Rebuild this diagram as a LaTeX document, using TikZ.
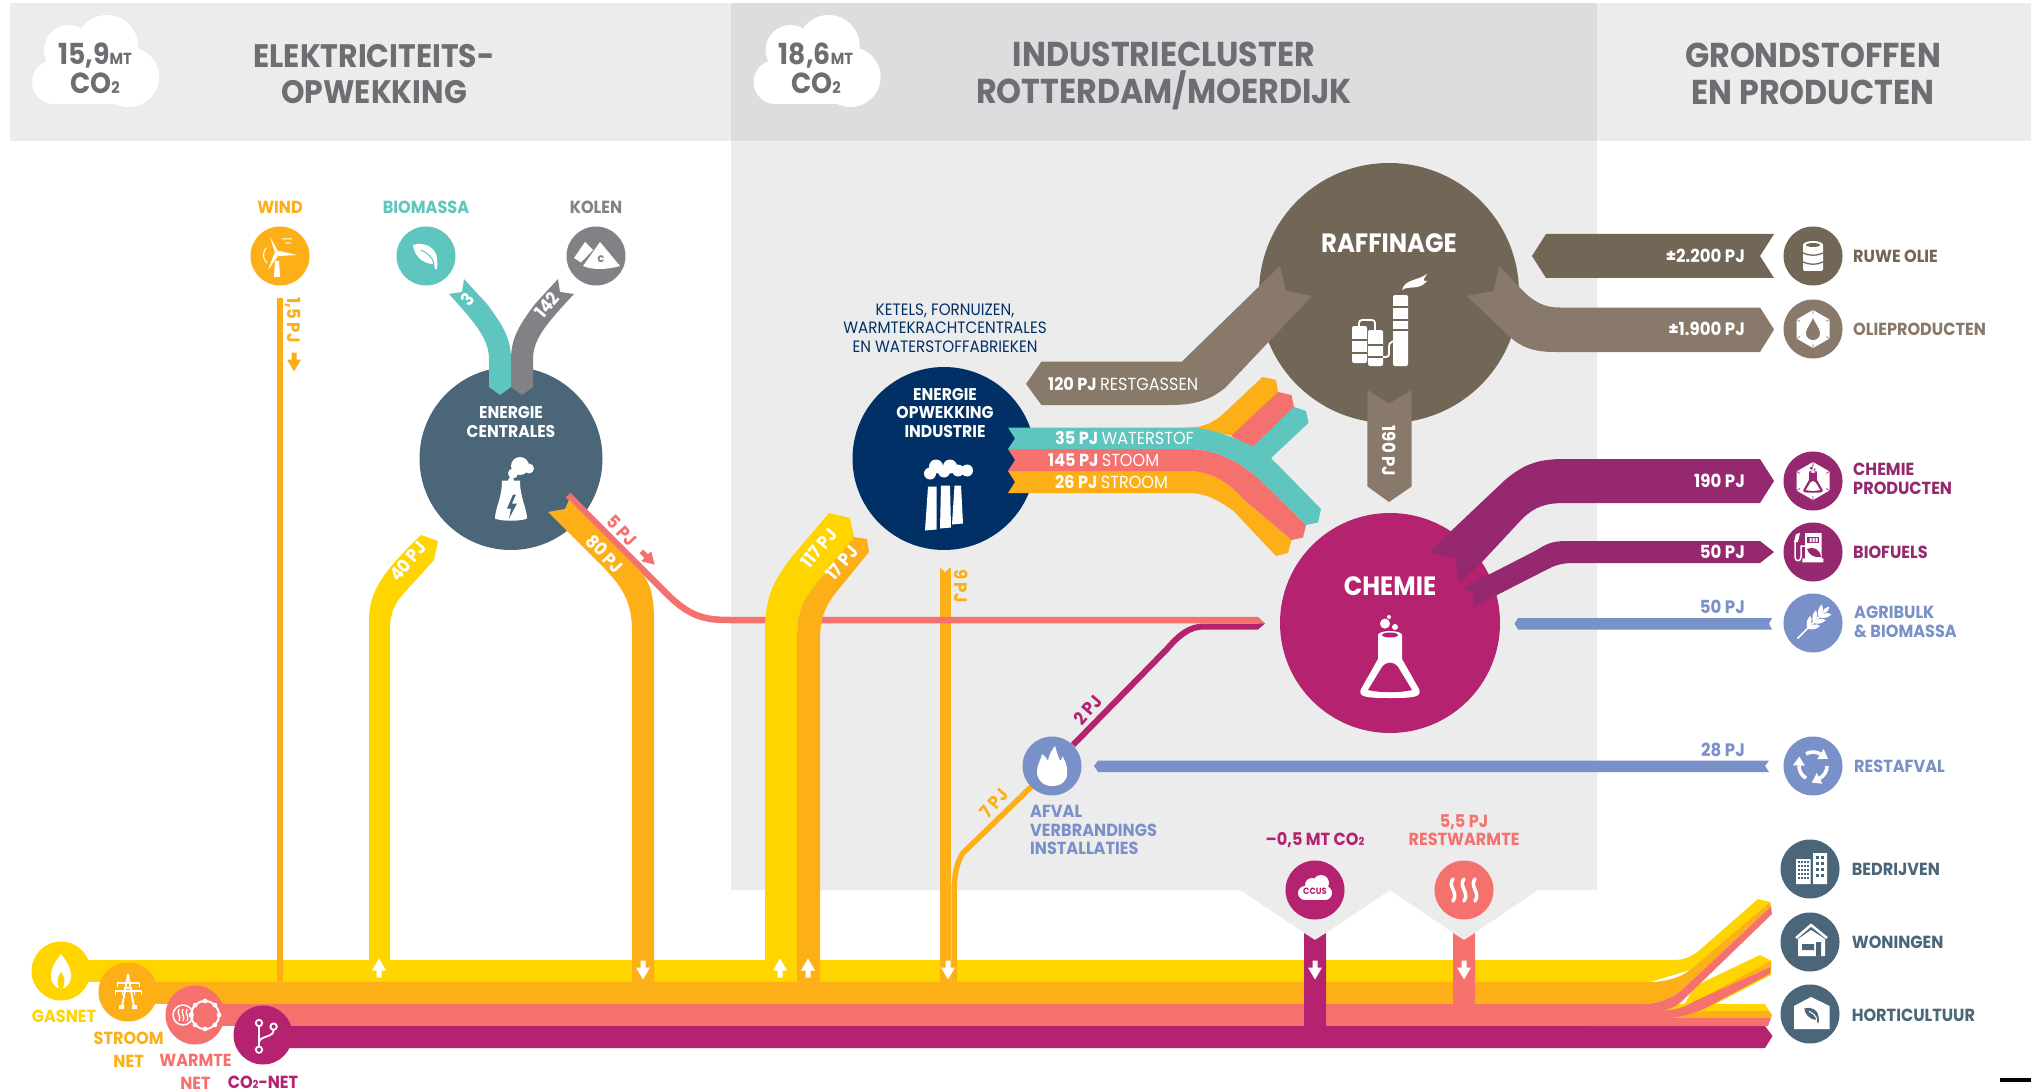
\documentclass[tikz,border=0pt]{standalone}
\usepackage{fontspec}
\setmainfont{Poppins}[FakeStretch=0.92]
\usepackage{tikz}
\usetikzlibrary{arrows, positioning}
\definecolor{gasyellow}{HTML}{FFD500}
\definecolor{powerorange}{HTML}{FDAF17}
\definecolor{heatpink}{HTML}{F4716E}
\definecolor{chemred}{HTML}{B5226F}
\definecolor{biomint}{HTML}{5EC5BF}
\definecolor{coalgrey}{HTML}{808285}
\definecolor{navyblue}{HTML}{003066}
\definecolor{slateblue}{HTML}{4A6678}
\definecolor{oilbrown}{HTML}{726656}
\definecolor{palebrown}{HTML}{88796B}
\definecolor{prodpurple}{HTML}{96286F}
\definecolor{wasteblue}{HTML}{7A90C8}
\definecolor{headgrey}{HTML}{6D6E71}
\definecolor{paneldark}{HTML}{DCDDDE}
\definecolor{panellight}{HTML}{ECECEC}
\tikzstyle{disc} = [circle, inner sep=0pt, minimum size=59pt]
\tikzstyle{bigdisc} = [circle, inner sep=0pt]
\tikzstyle{headtext} = [font=\bfseries\fontsize{34.5}{36.5}\selectfont, align=center, text=headgrey, inner sep=0pt]
\tikzstyle{cloudtext} = [font=\bfseries\fontsize{29}{29}\selectfont, align=center, text=headgrey, inner sep=0pt]
\tikzstyle{sidemark} = [font=\bfseries\fontsize{17.5}{18.6}\selectfont, align=left, anchor=west, inner sep=0pt]
\tikzstyle{midmark} = [font=\bfseries\fontsize{17.5}{18.6}\selectfont, align=center, inner sep=0pt]
\tikzstyle{platemark} = [font=\bfseries\fontsize{17}{18.6}\selectfont, align=center, text=white, inner sep=0pt]
\tikzstyle{flowmark} = [font=\bfseries\fontsize{18}{19}\selectfont, text=white, inner sep=0pt]
\tikzstyle{bandmark} = [font=\bfseries\fontsize{17.5}{19}\selectfont, text=white, inner sep=0pt, anchor=west]
\tikzstyle{thinmark} = [font=\fontsize{16.5}{18.6}\selectfont, align=center, inner sep=0pt]
\tikzset{
  pics/flowtip/.style={code={\fill[#1] (-2.5,-9.5) -- (2.5,-9.5) -- (2.5,-2.5) -- (7,-2.5) -- (0,9.5) -- (-7,-2.5) -- (-2.5,-2.5) -- cycle;}},
  pics/co2cloud/.style={code={
    \fill[white] (75,30) circle (31);
    \fill[white] (37,34) circle (25);
    \fill[white] (22,66) circle (22);
    \fill[white] (97,61) circle (30);
    \fill[white] (22,50) rectangle (97,88);}},
  pics/windicon/.style={code={
    \fill[white] (-5,-3) -- (-10,-19) -- (-2,-5) -- cycle (-1,-5) -- (17,-1) -- (-1,0) -- cycle (-6,-2) -- (-12,14) -- (-2,0) -- cycle (-5,5) -- (-1,5) -- (0,21) -- (-6,21) -- cycle;
    \fill[white] (-3,-2.5) circle (2.5);
    \draw[white, line width=1] (2,-17) -- (12,-17) (5,-13) -- (11,-13) (-14,-8) .. controls (-18,-2) and (-17,3) .. (-13,7);}},
  pics/leaficon/.style 2 args={code={
    \fill[#1] (-13,-11) .. controls (-2,-15) and (11,-8) .. (11,3) .. controls (11,7) and (12,10) .. (11,13) -- (9,13) -- (8,8) .. controls (-5,8) and (-12,-2) .. (-13,-11) -- cycle;
    \draw[#2, line width=1] (-5,-6) .. controls (2,-3) and (7,2) .. (8,8);}},
  pics/coalicon/.style={code={
    \fill[white] (4,-14) -- (24,10) .. controls (10,14) and (-4,14) .. (-13,10) -- cycle (-11,-14) -- (-3,-6) -- (-15,6.5) -- (-22,2) -- cycle;
    \node[font=\bfseries\fontsize{12}{12}\selectfont, text=#1, inner sep=0pt] (coalc) at (5,3) {c};}},
  pics/planticon/.style={code={
    \fill[white] (-9,22) .. controls (-9,40) and (-16,50) .. (-16,60) .. controls (-10,63) and (10,63) .. (16,60) .. controls (16,50) and (9,40) .. (9,22) -- cycle;
    \fill[white] (9,7.5) circle (9) (2,15) circle (5) (18,10) circle (5) (0,22) circle (3);
    \fill[#1] (2,36) -- (-4,50) -- (0,50) -- (-2,60) -- (6,45) -- (1,45) -- (5,36) -- cycle;}},
  pics/factoryicon/.style={code={
    \fill[white] (-16,28) -- (-7.5,28) -- (-7.5,71) -- (-19,72) -- cycle (-3,27) -- (6,27) -- (7,69) -- (-4,70) -- cycle (10.5,27) -- (17,27) -- (19,65) -- (8,66) -- cycle;
    \fill[white] (-14,15) circle (6) (-8,8) circle (7) (0,13) circle (6) (6,8) circle (7) (14,12) circle (6) (23,12) circle (6);}},
  pics/refineryicon/.style={code={
    \fill[white, rounded corners=2pt] (4,2) rectangle (19,73) (-37,33) rectangle (-22,70) (-21,37) rectangle (-6,73);
    \draw[#1, line width=1.6] (4,13.7) -- (19,13.7) (4,27) -- (19,27) (4,37) -- (19,37) (-37,47) -- (-22,47) (-37,60) -- (-22,60) (-21,52) -- (-6,52) (-21,64) -- (-6,64);
    \draw[white, line width=1.8, rounded corners=3pt] (-30,34) -- (-30,27) -- (-14,27) -- (-14,38) (-6,64) -- (0,64) -- (0,50) -- (5,48);
    \fill[white] (13,-3) .. controls (16,-14) and (28,-12) .. (38,-19) .. controls (34,-13) and (33,-12) .. (38,-12) .. controls (30,-2) and (20,-8) .. (13,-3) -- cycle;}},
  pics/flaskicon/.style 2 args={code={
    \fill[#1] (-12,12) -- (-12,36) -- (-29,66) .. controls (-32,74) and (-25,75) .. (0,75) .. controls (25,75) and (32,74) .. (29,66) -- (12,36) -- (12,12) -- cycle;
    \fill[#1] (0,12) ellipse (12 and 4);
    \fill[#2] (0,12) ellipse (8 and 2.5);
    \fill[#2] (-22,67) -- (-8,44) .. controls (-3,38) and (3,38) .. (8,44) -- (22,67) .. controls (10,70) and (-10,70) .. (-22,67) -- cycle;
    \fill[#1] (-5,0.6) circle (5) (-1,-6) circle (2) (5,4) circle (3);}},
  pics/hexicon/.style={code={
    \fill[white] (0,-19) -- (16.5,-9.5) -- (16.5,9.5) -- (0,19) -- (-16.5,9.5) -- (-16.5,-9.5) -- cycle;
    \draw[#1, line width=0.6] (0,-19) -- (0,-15) (16.5,-9.5) -- (13,-7.5) (16.5,9.5) -- (13,7.5) (0,19) -- (0,15) (-16.5,9.5) -- (-13,7.5) (-16.5,-9.5) -- (-13,-7.5);}},
  pics/dropicon/.style={code={\fill[#1] (0,-11) .. controls (3,-4) and (7,0) .. (7,4) .. controls (7,9) and (3,11) .. (0,11) .. controls (-3,11) and (-7,9) .. (-7,4) .. controls (-7,0) and (-3,-4) .. (0,-11) -- cycle;}},
  pics/drumicon/.style={code={
    \fill[white, rounded corners=2pt] (-10,-12) rectangle (10,15);
    \fill[white] (0,-11) ellipse (10 and 4);
    \fill[#1] (0,-11) ellipse (7 and 2);
    \draw[#1, line width=1.3] (-10,-3) .. controls (-4,0) and (4,0) .. (10,-3) (-10,6) .. controls (-4,9) and (4,9) .. (10,6);}},
  pics/pumpicon/.style={code={
    \fill[white] (-8,-19) rectangle (8.7,7) (-10.7,6.3) rectangle (10.3,10.3);
    \fill[#1] (-5.7,-15.3) rectangle (6.3,-8.7);
    \fill[white] (-3.5,-14) rectangle (-1.5,-10) (-0.5,-14) rectangle (1.5,-10) (2.5,-14) rectangle (4.5,-10);
    \draw[white, line width=1.5] (-18,-10) -- (-18,5) .. controls (-18,10) and (-12,10) .. (-12,5) -- (-12,-6) -- (-8,-6);
    \fill[white] (-19,-10) -- (-17,-18) -- (-13,-19) -- (-15,-10) -- cycle;
    \fill[#1] (-6,-3) .. controls (0,-6) and (7,-3) .. (8,5) .. controls (1,6) and (-4,3) .. (-6,-3) -- cycle;}},
  pics/wheaticon/.style={code={
    \begin{scope}[rotate=45]
      \draw[white, line width=1.5] (-22,0) -- (16,0);
      \foreach \d in {-8,0,8} {
        \fill[white] (\d,0) .. controls (\d+3,-6) and (\d+8,-7) .. (\d+11,-7) .. controls (\d+10,-2) and (\d+6,0) .. (\d,0) -- cycle;
        \fill[white] (\d,0) .. controls (\d+3,6) and (\d+8,7) .. (\d+11,7) .. controls (\d+10,2) and (\d+6,0) .. (\d,0) -- cycle;
      }
      \fill[white] (14,0) .. controls (17,-3) and (20,-2) .. (23,0) .. controls (20,2) and (17,3) .. (14,0) -- cycle;
    \end{scope}}},
  pics/recycleicon/.style={code={
    \foreach \a in {0,120,240} {
      \draw[white, line width=3.6, rotate=\a] (14,0) arc (0:62:14);
      \fill[white, rotate=\a] (9.4,17.7) -- (-1.3,16.6) -- (3.8,7.1) -- cycle;
    }}},
  pics/flameicon/.style={code={\fill[white] (3,-20) .. controls (6,-10) and (7,-6) .. (9,-5) .. controls (10,-8) and (10,-9) .. (10,-10) .. controls (16,-2) and (15,6) .. (15,8) .. controls (15,16) and (8,20) .. (0,20) .. controls (-9,20) and (-15,14) .. (-15,6) .. controls (-15,-2) and (-11,-6) .. (-10,-12) .. controls (-6,-9) and (-5,-7) .. (-4,-5) .. controls (-3,-12) and (0,-16) .. (3,-20) -- cycle;}},
  pics/gasicon/.style={code={
    \fill[white] (0,-17) .. controls (6,-9) and (10,-3) .. (10,5) .. controls (10,11) and (7,15) .. (3,17) -- (-3,17) .. controls (-7,15) and (-10,11) .. (-10,5) .. controls (-10,-3) and (-6,-9) .. (0,-17) -- cycle;
    \fill[#1] (0,1) .. controls (3,5) and (5,9) .. (2,17) -- (-2,17) .. controls (-5,9) and (-3,5) .. (0,1) -- cycle;}},
  pics/pylonicon/.style={code={
    \draw[white, line width=1.8] (0,-18) -- (-6,15) (0,-18) -- (6,15) (-11,-9) -- (11,-9) (-13,-1) -- (13,-1) (-4,-4) -- (4,-4);
    \draw[white, line width=1] (-11,-9) -- (-11,-5) (11,-9) -- (11,-5) (-13,-1) -- (-13,3) (13,-1) -- (13,3) (-6,-1) -- (-6,3) (6,-1) -- (6,3);
    \fill[white] (-9,13) rectangle (-4,17) (4,13) rectangle (9,17);}},
  pics/heaticon/.style={code={
    \draw[white, line width=1.5] (-12,0) circle (10);
    \draw[white, line width=2] (10,0) circle (14);
    \foreach \s in {-4,0,4} {\draw[white, line width=1.3] (-12+\s,-6) .. controls (-15+\s,-2) and (-9+\s,2) .. (-12+\s,6);}
    \foreach \a in {0,45,...,315} {\fill[white] (10,0) ++(\a:14) circle (2.4);}}},
  pics/branchicon/.style={code={
    \draw[white, line width=1.8] (-4,-12) circle (3.2) (10.6,-8.4) circle (3.2) (-4,14.7) circle (3.2) (-4,-8.8) -- (-4,11.5) (10.6,-5.2) .. controls (10.6,3) and (-2,0) .. (-4,7);}},
  pics/ccusicon/.style={code={
    \fill[white] (-10,3) circle (7);
    \fill[white] (-3,-5) circle (7);
    \fill[white] (6,-7) circle (8);
    \fill[white] (10,3) circle (7);
    \fill[white] (-10,-2) rectangle (10,10);
    \node[font=\bfseries\fontsize{9}{9}\selectfont, text=#1, inner sep=0pt] (ccustext) at (0,1) {CCUS};}},
  pics/wavesicon/.style={code={
    \foreach \s in {-11,0,11} {\draw[white, line width=3.5, line cap=round] (\s,-11) .. controls (\s-6,-4) and (\s+6,3) .. (\s,11);}}},
  pics/buildingicon/.style={code={
    \fill[white] (-14,-10) rectangle (0.5,15) (3,-16) rectangle (17,15);
    \foreach \x in {-12,-9,-6,-3} {\foreach \y in {-8,-4,0,4,8} {\fill[#1] (\x,\y) rectangle +(2,2);}}
    \foreach \x in {6,11} {\foreach \y in {-13,-7,-1,5} {\fill[#1] (\x,\y) rectangle +(2.6,3);}}}},
  pics/houseicon/.style={code={
    \fill[white] (-12,-3) -- (1,-12) -- (15,-3) -- (15,14) -- (-12,14) -- cycle;
    \draw[white, line width=2.5] (-14,-4) -- (1,-17) -- (17,-4);
    \fill[#1] (-8,2) rectangle (4,8) (6,0) rectangle (11,14);}},
  pics/greenhouseicon/.style={code={\fill[white] (-16,-8) -- (1,-17) -- (19.5,-8) -- (19.5,15) -- (-16,15) -- cycle;}}
}

\begin{document}
\begin{tikzpicture}[x=1pt, y=-1pt]
    \fill[white] (0,0) rectangle (2031,1091);
    \useasboundingbox (0,0) rectangle (2031,1091);

    % Header strips and the cluster panel
    \fill[panellight] (10,3) rectangle (2031,141);
    \fill[paneldark] (731,3) rectangle (1597,141);
    \fill[panellight] (731,141) -- (1597,141) -- (1597,890) -- (1538,890) -- (1464,940) -- (1390,890) -- (1315,940) -- (1240,890) -- (731,890) -- cycle;
    \fill[black] (2000,1078) rectangle (2031,1082);

    \node [headtext, font=\bfseries\fontsize{32.5}{36.5}\selectfont] (headpower) at (374,74) {ELEKTRICITEITS-\\OPWEKKING};
    \node [headtext] (headcluster) at (1164,76) {INDUSTRIECLUSTER\\ROTTERDAM/MOERDIJK};
    \node [headtext] (headgoods) at (1813,74) {GRONDSTOFFEN\\EN PRODUCTEN};
    \pic at (32,16) {co2cloud};
    \pic at (753.6,16) {co2cloud};
    \node [cloudtext] (cloudpower) at (95,68) {15,9{\fontsize{16}{16}\selectfont MT}\\CO{\fontsize{16}{16}\selectfont 2}};
    \node [cloudtext] (cloudcluster) at (816,68) {18,6{\fontsize{16}{16}\selectfont MT}\\CO{\fontsize{16}{16}\selectfont 2}};

    % The large plants
    \node [bigdisc, minimum size=260pt, fill=oilbrown] (raffinage) at (1389,293) {};
    \node [bigdisc, minimum size=220pt, fill=chemred] (chemie) at (1390,623) {};
    \node [bigdisc, minimum size=183pt, fill=slateblue] (centrales) at (511,458.5) {};
    \node [bigdisc, minimum size=183pt, fill=navyblue] (opwekking) at (944,458.5) {};

    % The four nets
    \fill[gasyellow] (61,960) rectangle (1584,982);
    \fill[powerorange] (128,982) rectangle (1584,1004);
    \fill[heatpink] (195,1004) rectangle (1600,1026);
    \fill[chemred] (263,1026) -- (1765,1026) -- (1772.5,1036) -- (1765,1048) -- (263,1048) -- cycle;

    % Ends of the nets, towards the three users
    \fill[gasyellow] (1660,1004) -- (1765,1004) -- (1769,1011) -- (1660,1011) -- cycle;
    \fill[powerorange] (1640,1011) -- (1769,1011) -- (1772,1015) -- (1771,1018) -- (1640,1018) -- cycle;
    \fill[heatpink] (1590,1018) -- (1771,1018) -- (1768,1026) -- (1590,1026) -- cycle;
    \fill[gasyellow] (1695,986) -- (1760,955) -- (1771,960.7) -- (1771,975) -- (1700,1012) -- (1680,1012) -- cycle;
    \fill[powerorange] (1771,960.7) -- (1771,967) -- (1690,1014) -- (1660,1014) .. controls (1675,1012) and (1685,1008) .. cycle;
    \fill[heatpink] (1590,1011) -- (1650,1011) .. controls (1668,1011) and (1680,1010) .. (1695,1001) -- (1771,967) -- (1770,973.6) -- (1718.5,1001) .. controls (1695,1015) and (1680,1018) .. (1658,1018) -- (1590,1018) -- cycle;
    \fill[gasyellow] (1584,960) -- (1674,960) .. controls (1685,960) and (1693,956) .. (1702,948) -- (1758,899) -- (1770,902) -- (1690,970) -- (1650,982) -- (1584,982) -- cycle;
    \fill[powerorange] (1584,982) -- (1650,982) .. controls (1665,982) and (1680,978) .. (1690,970) -- (1770,902) -- (1771,906.5) -- (1682,990) .. controls (1670,1000) and (1655,1004) .. (1642,1004) -- (1584,1004) -- cycle;
    \fill[heatpink] (1584,1004) -- (1642,1004) .. controls (1655,1004) and (1670,1000) .. (1682,990) -- (1771,906.5) -- (1772,914) -- (1682,1001) .. controls (1675,1008) and (1665,1011) .. (1658,1011) -- (1584,1011) -- cycle;

    % Coal and biomass feed
    \fill[biomint] (449,294) -- (462,292) -- (464,279) -- (487,304) .. controls (505,328) and (511,340) .. (511,360) -- (511,387) -- (500,395) -- (489,387) -- (489,360) .. controls (489,340) and (478,326) .. (449,294) -- cycle;
    \fill[coalgrey] (574,294) -- (560,292) -- (558,279) -- (535,304) .. controls (517,328) and (511,340) .. (511,360) -- (511,387) -- (522,395) -- (533,387) -- (533,360) .. controls (533,340) and (544,326) .. (574,294) -- cycle;

    % Wind, 5 PJ heat and the 2 PJ and 7 PJ waste lines
    \coordinate (windtop) at (280,298);
    \coordinate (windend) at (280,982);
    \draw[powerorange, line width=6.5] (windtop) -- (windend);
    \coordinate (ninetop) at (945,568);
    \coordinate (nineend) at (945,982);
    \draw[powerorange, line width=11] (ninetop) -- (nineend);
    \fill[panellight] (939.5,567) -- (945,572) -- (950.5,567) -- cycle;
    \draw[heatpink, line width=6.5] (568,495) -- (667,594) .. controls (690,617) and (705,620) .. (730,620) -- (1258,620);
    \draw[powerorange, line width=5.5] (1032,786) -- (963,853) .. controls (955,865) and (954,880) .. (954,900) -- (954,982);
    \draw[chemred, line width=6] (1073,745) -- (1167,649) .. controls (1180,634) and (1190,626.5) .. (1204,626.5) -- (1258,626.5);
    \fill[heatpink] (1258,616.8) -- (1265,623.4) -- (1258,623.4) -- cycle;
    \fill[chemred] (1258,623.4) -- (1265,623.4) -- (1258,629.5) -- cycle;

    % Gas and power from and to the net
    \fill[gasyellow] (369,960) -- (369,620) .. controls (369,590) and (385,570) .. (421,535) -- (438,541) -- (434,560) -- (405,592) .. controls (395,603) and (390,612) .. (390,630) -- (390,960) -- cycle;
    \fill[powerorange] (548,512) -- (565,509) -- (569,500) -- (640,571) .. controls (650,582) and (654,595) .. (654,620) -- (654,982) -- (632,982) -- (632,630) .. controls (632,600) and (620,585) .. (605,569) -- cycle;
    \fill[gasyellow] (829,513) -- (850,518) -- (854,537) -- (815,585) .. controls (803,600) and (797,612) .. (797,640) -- (797,960) -- (765,960) -- (765,630) .. controls (765,595) and (775,578) .. (795,553) -- cycle;
    \fill[powerorange] (854,537) -- (867,539) -- (869,552) -- (838,590) .. controls (825,606) and (820,618) .. (820,640) -- (820,982) -- (797,982) -- (797,640) .. controls (797,612) and (803,600) .. (815,585) -- cycle;

    % Stems below the two pockets
    \fill[chemred] (1304,933) -- (1315,940) -- (1326,933) -- (1326,1026) -- (1304,1026) -- cycle;
    \fill[heatpink] (1453,933) -- (1464,940) -- (1475,933) -- (1475,1004) -- (1453,1004) -- cycle;

    % Refinery flows
    \fill[palebrown] (1041.5,361.5) -- (1182,361.5) -- (1258,287.5) -- (1280,266) -- (1286,291) -- (1312,296) -- (1225,388) .. controls (1210,400) and (1195,405) .. (1170,405) -- (1041.5,405) -- (1026,384) -- cycle;
    \fill[oilbrown] (1532,256) -- (1546,234) -- (1774,234) -- (1760,256) -- (1774,278) -- (1546,278) -- cycle;
    \fill[palebrown] (1760,307.5) -- (1560,307.5) .. controls (1545,307.5) and (1535,303) .. (1522,290) -- (1499,266) -- (1493.5,291) -- (1467,296) -- (1510,337) .. controls (1522,348) and (1535,352) .. (1555,352) -- (1760,352) -- (1774,329.5) -- cycle;
    \fill[palebrown] (1367.4,390) -- (1389,403.6) -- (1411.7,390) -- (1411.7,486.4) -- (1389,502) -- (1367.4,486.4) -- cycle;

    % Chemistry flows
    \fill[prodpurple] (1760,459) -- (1565,459) .. controls (1540,459) and (1525,463) .. (1505,480) -- (1450,532) -- (1429,553) -- (1455,558) -- (1459,584) -- (1482,562) -- (1523,518) .. controls (1535,507) and (1545,503) .. (1565,503) -- (1760,503) -- (1774,481) -- cycle;
    \fill[prodpurple] (1760,541) -- (1567,541) .. controls (1550,541) and (1545,545) .. (1535,551) -- (1490,574) -- (1463,587) -- (1474,595) -- (1473,607) -- (1497,595) -- (1550,568) .. controls (1558,564) and (1565,563) .. (1575,563) -- (1760,563) -- (1774,552) -- cycle;
    \fill[wasteblue] (1514.5,623.7) -- (1518,618) -- (1772,618) -- (1769,623.7) -- (1772,629.5) -- (1518,629.5) -- cycle;
    \fill[wasteblue] (1094,766) -- (1098,760.5) -- (1769,760.5) -- (1765,766) -- (1769,772) -- (1098,772) -- cycle;

    % Steam, hydrogen and power out of the industrial plants
    \fill[powerorange] (1187,427.5) .. controls (1200,427.5) and (1210,425) .. (1222,415) -- (1262.5,377) -- (1276,380) -- (1278,392) -- (1240,437) -- cycle;
    \fill[heatpink] (1231,436) -- (1278,392) -- (1291.5,395) -- (1294,407) -- (1253.6,449) -- cycle;
    \fill[powerorange] (1008,471) -- (1187,471) .. controls (1215,471) and (1230,485) .. (1244.6,500) -- (1291.5,540) -- (1288,553) -- (1276,556) -- (1233.5,511) .. controls (1215,498) and (1205,493) .. (1187,493) -- (1008,493) -- (1015,482) -- cycle;
    \fill[heatpink] (1008,449) -- (1187,449) .. controls (1213,449) and (1235,458) .. (1258,478) -- (1306,525) -- (1303,537.5) -- (1291.5,540) -- (1244.6,500) .. controls (1230,485) and (1215,471) .. (1187,471) -- (1008,471) -- (1015,460) -- cycle;
    \fill[biomint] (1008,427.5) -- (1187,427.5) .. controls (1205,427.5) and (1225,433) .. (1252.7,446.5) -- (1294,407) -- (1306,411) -- (1308.5,423) -- (1271,458) -- (1321,509) -- (1318,522.5) -- (1306,525) -- (1258,478) .. controls (1235,458) and (1213,449) .. (1187,449) -- (1008,449) -- (1015,438.5) -- cycle;

    % Small discs
    \node [disc, fill=powerorange] (wind) at (280,256) {};
    \node [disc, fill=biomint] (biomassa) at (426,256) {};
    \node [disc, fill=coalgrey] (kolen) at (596,256) {};
    \node [disc, fill=oilbrown] (ruweolie) at (1813,256) {};
    \node [disc, fill=palebrown] (olieproduct) at (1813,329) {};
    \node [disc, fill=prodpurple] (chemieprod) at (1813,481) {};
    \node [disc, fill=prodpurple] (biofuels) at (1813,552) {};
    \node [disc, fill=wasteblue] (agribulk) at (1813,623) {};
    \node [disc, fill=wasteblue] (restafval) at (1813,766) {};
    \node [disc, fill=slateblue] (bedrijven) at (1810,869) {};
    \node [disc, fill=slateblue] (woningen) at (1810,942) {};
    \node [disc, fill=slateblue] (horti) at (1810,1014) {};
    \node [disc, fill=wasteblue] (afval) at (1052,766) {};
    \node [disc, fill=chemred] (ccus) at (1315,890) {};
    \node [disc, fill=heatpink] (restwarmte) at (1464,890) {};
    \node [disc, fill=gasyellow] (gasnet) at (61,971) {};
    \node [disc, fill=powerorange] (stroomnet) at (128,992) {};
    \node [disc, fill=heatpink] (warmtenet) at (195,1015) {};
    \node [disc, fill=chemred] (co2net) at (263,1035) {};

    % Icons
    \pic at (wind) {windicon};
    \pic at (biomassa) {leaficon={white}{biomint}};
    \pic at (kolen) {coalicon=coalgrey};
    \pic at (centrales) {planticon=slateblue};
    \pic at (opwekking) {factoryicon};
    \pic at (raffinage) {refineryicon=oilbrown};
    \pic at (chemie) {flaskicon={white}{chemred}};
    \pic at (ruweolie) {drumicon=oilbrown};
    \pic at (olieproduct) {hexicon=palebrown};
    \pic at (olieproduct) {dropicon=palebrown};
    \pic at (chemieprod) {hexicon=prodpurple};
    \pic[scale=.33] at (1813,468) {flaskicon={prodpurple}{white}};
    \pic at (biofuels) {pumpicon=prodpurple};
    \pic at (agribulk) {wheaticon};
    \pic at (restafval) {recycleicon};
    \pic at (afval) {flameicon};
    \pic at (ccus) {ccusicon=chemred};
    \pic at (restwarmte) {wavesicon};
    \pic at (gasnet) {gasicon=gasyellow};
    \pic at (stroomnet) {pylonicon};
    \pic at (warmtenet) {heaticon};
    \pic at (co2net) {branchicon};
    \pic at (bedrijven) {buildingicon=slateblue};
    \pic at (woningen) {houseicon=slateblue};
    \pic at (horti) {greenhouseicon};
    \pic[scale=.6] at (1812,1015) {leaficon={slateblue}{white}};

    % Arrows in the net and beside the lines
    \foreach \x in {643,948,1315,1464} {\pic at (\x,970) {flowtip=white};}
    \foreach \x in {379,780,808} {\pic[rotate=180] at (\x,968) {flowtip=white};}
    \pic at (294,362) {flowtip=powerorange};
    \pic[rotate=45] at (648,558) {flowtip=heatpink};

    % Labels
    \node [midmark, text=powerorange] (windlabel) at (280,207) {WIND};
    \node [midmark, text=biomint] (biolabel) at (426,207) {BIOMASSA};
    \node [midmark, text=coalgrey] (kolenlabel) at (596,207) {KOLEN};
    \node [platemark] (centraletext) at (511,422) {ENERGIE\\CENTRALES};
    \node [platemark] (opwekkingtext) at (945,413) {ENERGIE\\OPWEKKING\\INDUSTRIE};
    \node [thinmark, text=navyblue] (ketels) at (945,328) {KETELS, FORNUIZEN,\\WARMTEKRACHTCENTRALES\\EN WATERSTOFFABRIEKEN};
    \node [font=\bfseries\fontsize{26.5}{26.5}\selectfont, text=white, inner sep=0pt] (raftext) at (1389,243) {RAFFINAGE};
    \node [font=\bfseries\fontsize{26.5}{26.5}\selectfont, text=white, inner sep=0pt] (chemtext) at (1390,586) {CHEMIE};

    \node [flowmark, rotate=50] (lab3) at (468,299) {3};
    \node [flowmark, rotate=50] (lab142) at (547,305) {142};
    \node [flowmark, rotate=50] (lab40) at (408,561) {40 PJ};
    \node [flowmark, rotate=-47] (lab80) at (605,554) {80 PJ};
    \node [flowmark, rotate=-47, text=heatpink] (lab5) at (622,531) {5 PJ};
    \node [flowmark, rotate=50] (lab117) at (819,548) {117 PJ};
    \node [flowmark, rotate=50] (lab17) at (842,563) {17 PJ};
    \node [flowmark, rotate=-90, text=powerorange] (lab15) at (293,320) {1,5 PJ};
    \node [flowmark, rotate=-90, text=powerorange] (lab9) at (961,586) {9 PJ};
    \node [flowmark, rotate=50, text=powerorange] (lab7) at (994,803) {7 PJ};
    \node [flowmark, rotate=50, text=chemred] (lab2) at (1088,710) {2 PJ};
    \node [flowmark, rotate=-90] (lab190b) at (1389,451) {190 PJ};
    \node [bandmark] (labgas) at (1048,384) {120 PJ {\mdseries RESTGASSEN}};
    \node [bandmark] (labh) at (1055,438) {35 PJ {\mdseries WATERSTOF}};
    \node [bandmark] (labs) at (1048,460) {145 PJ {\mdseries STOOM}};
    \node [bandmark] (labe) at (1055,482) {26 PJ {\mdseries STROOM}};
    \node [flowmark, anchor=east] (labolie) at (1745,256) {±2.200 PJ};
    \node [flowmark, anchor=east] (labprod) at (1745,329) {±1.900 PJ};
    \node [flowmark, anchor=east] (labchem) at (1745,481) {190 PJ};
    \node [flowmark, anchor=east] (labfuel) at (1745,552) {50 PJ};
    \node [flowmark, anchor=east, text=wasteblue] (labagri) at (1745,607) {50 PJ};
    \node [flowmark, anchor=east, text=wasteblue] (labrest) at (1745,750) {28 PJ};

    \node [sidemark, text=oilbrown] (ruwetext) at (1853,256) {RUWE OLIE};
    \node [sidemark, text=palebrown] (olietext) at (1853,329) {OLIEPRODUCTEN};
    \node [sidemark, text=prodpurple] (chemprodtext) at (1853,479) {CHEMIE\\PRODUCTEN};
    \node [sidemark, text=prodpurple] (fueltext) at (1853,552) {BIOFUELS};
    \node [sidemark, text=wasteblue] (agritext) at (1854,622) {AGRIBULK\\\& BIOMASSA};
    \node [sidemark, text=wasteblue] (resttext) at (1854,766) {RESTAFVAL};
    \node [sidemark, text=slateblue] (bedrijftext) at (1851.6,869.5) {BEDRIJVEN};
    \node [sidemark, text=slateblue] (woningtext) at (1851.6,942.5) {WONINGEN};
    \node [sidemark, text=slateblue] (hortitext) at (1851.6,1015) {HORTICULTUUR};
    \node [sidemark, text=wasteblue] (afvaltext) at (1030,830) {AFVAL\\VERBRANDINGS\\INSTALLATIES};
    \node [midmark, text=chemred] (ccuslabel) at (1315,840) {--0,5 MT CO{\fontsize{11}{11}\selectfont 2}};
    \node [midmark, text=heatpink] (warmlabel) at (1464,830) {5,5 PJ\\RESTWARMTE};
    \node [midmark, text=gasyellow] (gaslabel) at (64,1016.5) {GASNET};
    \node [midmark, text=powerorange, font=\bfseries\fontsize{17.5}{22.5}\selectfont] (stroomlabel) at (128.6,1050) {STROOM\\NET};
    \node [midmark, text=heatpink, font=\bfseries\fontsize{17.5}{22.5}\selectfont] (warmtelabel) at (195.5,1072) {WARMTE\\NET};
    \node [midmark, text=chemred] (co2label) at (263,1082) {CO{\fontsize{11}{11}\selectfont 2}-NET};
\end{tikzpicture}
\end{document}
